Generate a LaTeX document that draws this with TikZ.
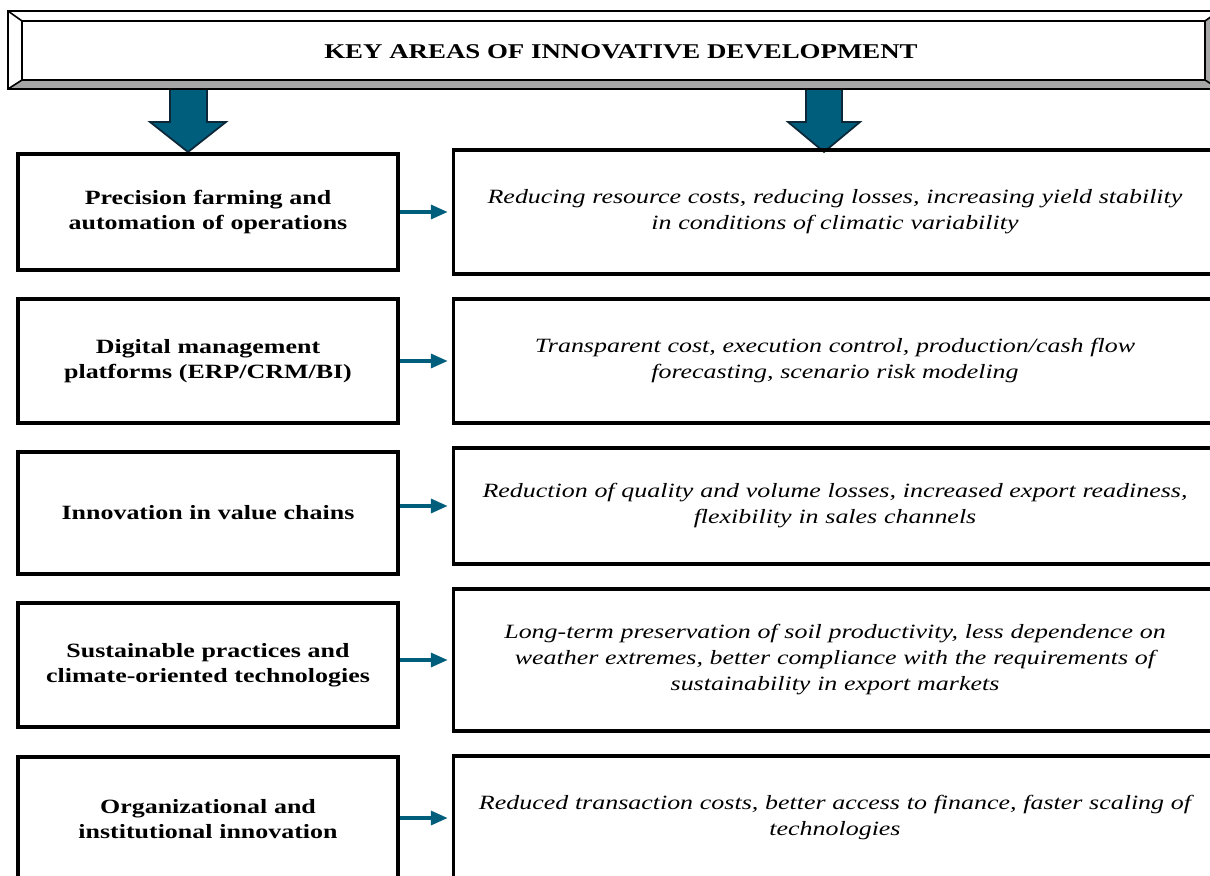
\documentclass[tikz,border=0pt]{standalone}
\usepackage{fontspec}
\setmainfont{Liberation Serif}[FakeStretch=1.28]
\usepackage{tikz}
\usetikzlibrary{arrows.meta,positioning}
\definecolor{arrowblue}{RGB}{0,94,125}
\definecolor{arrowline}{RGB}{12,40,56}
\definecolor{bevelgray}{RGB}{166,166,166}

\begin{document}
\begin{tikzpicture}[x=0.75pt,y=-0.75pt,>={Triangle[length=12.5pt,width=10.5pt]},
    lbox/.style={draw, line width=2.4pt, minimum width=285pt, text width=265pt, align=center,
                 font=\bfseries\fontsize{15.2}{18.75}\selectfont},
    rbox/.style={draw, line width=2.4pt, minimum width=571.5pt, text width=565pt, align=center,
                 font=\itshape\fontsize{15.2}{19.5}\selectfont},
    link/.style={draw=arrowblue, line width=2.3pt, shorten >=3.5pt, ->},
    bigarrow/.style={fill=arrowblue, draw=arrowline, line width=1.3pt, line join=miter},
    bevel/.style={draw, line width=2.2pt, line join=miter}]
    \useasboundingbox[fill=white] (0,0) rectangle (1210,875);
    \clip (0,0) rectangle (1210,875);

    % down arrows under the header
    \draw[bigarrow] (170,86) -- (207,86) -- (207,122) -- (226,122) -- (188,152) -- (150,122) -- (170,122) -- cycle;
    \draw[bigarrow] (806,86) -- (842,86) -- (842,122) -- (860,122) -- (824,152) -- (788,122) -- (806,122) -- cycle;

    % bevelled header frame
    \fill[white] (8,11) -- (1219,11) -- (1205,21) -- (22,21) -- cycle;
    \fill[white] (8,11) -- (22,21) -- (22,80) -- (8,89) -- cycle;
    \fill[bevelgray] (8,89) -- (22,80) -- (1205,80) -- (1219,89) -- cycle;
    \fill[bevelgray] (1219,11) -- (1205,21) -- (1205,80) -- (1219,89) -- cycle;
    \draw[bevel] (8,11) rectangle (1219,89);
    \draw[bevel] (22,21) rectangle (1205,80);
    \draw[line width=1.2pt] (8,11) -- (22,21) (8,89) -- (22,80) (1219,11) -- (1205,21) (1219,89) -- (1205,80);
    \node[font=\bfseries\fontsize{15.75}{18}\selectfont] (K) at (621,52) {KEY AREAS OF INNOVATIVE DEVELOPMENT};

    % areas
    \node[lbox, minimum height=87pt]   (A) at (208,212) {Precision farming and\\ automation of operations};
    \node[lbox, minimum height=93pt]   (B) at (208,361) {Digital management\\ platforms (ERP/CRM/BI)};
    \node[lbox, minimum height=91.5pt] (C) at (208,513) {Innovation in value chains};
    \node[lbox, minimum height=93pt]   (D) at (208,665) {Sustainable practices and\\ climate-oriented technologies};
    \node[lbox, minimum height=93pt]   (E) at (208,819) {Organizational and\\ institutional innovation};

    % effects
    \node[rbox, minimum height=93pt]    (F) at (835,212) {Reducing resource costs, reducing losses, increasing yield stability\\ in conditions of climatic variability};
    \node[rbox, minimum height=93pt]    (G) at (835,361) {Transparent cost, execution control, production/cash flow\\ forecasting, scenario risk modeling};
    \node[rbox, minimum height=87pt]    (H) at (835,506) {Reduction of quality and volume losses, increased export readiness,\\ flexibility in sales channels};
    \node[rbox, minimum height=106.5pt] (I) at (835,660) {Long-term preservation of soil productivity, less dependence on\\ weather extremes, better compliance with the requirements of\\ sustainability in export markets};
    \node[rbox, minimum height=93pt]    (J) at (835,818) {Reduced transaction costs, better access to finance, faster scaling of\\ technologies};

    % area -> effect
    \path[every edge/.style={link}]
    (A.east |- F.west) edge node {} (F.west)
    (B.east |- G.west) edge node {} (G.west)
    (C.east |- H.west) edge node {} (H.west)
    (D.east |- I.west) edge node {} (I.west)
    (E.east |- J.west) edge node {} (J.west);

  \end{tikzpicture}
\end{document}
